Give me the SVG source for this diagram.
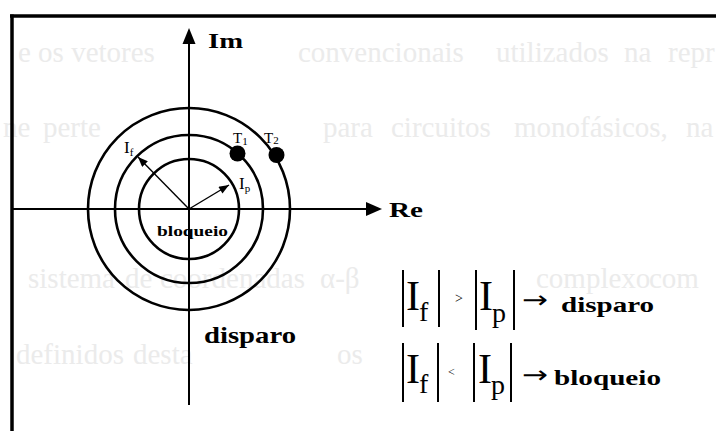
<svg xmlns="http://www.w3.org/2000/svg" width="716" height="431" viewBox="0 0 716 431">
  <defs>
    <style>
      .ghost { font-family: "Liberation Serif", serif; font-size: 29px; fill: #ebebeb; }
      .lbl { font-family: "Liberation Serif", serif; fill: #000; }
      .b { font-weight: bold; }
      .ln { stroke: #000; fill: none; }
      .bar { stroke: #000; stroke-width: 2; }
    </style>
    <marker id="ah" viewBox="0 0 10 8" refX="10" refY="4" markerWidth="11" markerHeight="8" markerUnits="userSpaceOnUse" orient="auto">
      <path d="M0,0 L10,4 L0,8 Z" fill="#000"/>
    </marker>
  </defs>
  <rect width="716" height="431" fill="#ffffff"/>

  <g id="ghost-text" class="ghost">
    <text y="62"><tspan x="18">e os vetores</tspan><tspan x="298">convencionais</tspan><tspan x="496">utilizados</tspan><tspan x="624">na</tspan><tspan x="668">repr</tspan></text>
    <text y="137"><tspan x="3">ne</tspan><tspan x="43">perte</tspan><tspan x="323">para</tspan><tspan x="391">circuitos</tspan><tspan x="514">monofásicos,</tspan><tspan x="686">na</tspan></text>
    <text y="288"><tspan x="28">sistema</tspan><tspan x="125">de</tspan><tspan x="160">coordenadas</tspan><tspan x="320">α-β</tspan><tspan x="536">complexo</tspan><tspan x="649">com</tspan></text>
    <text y="364"><tspan x="16">definidos</tspan><tspan x="133">desta</tspan><tspan x="337">os</tspan></text>
  </g>

  <g id="frame">
    <line class="ln" x1="10" y1="16" x2="716" y2="16" stroke-width="3.5"/>
    <line class="ln" x1="12" y1="14.5" x2="12" y2="431" stroke-width="3.5"/>
  </g>

  <g id="circles">
    <circle class="ln" cx="189" cy="209" r="101" stroke-width="2.6"/>
    <circle class="ln" cx="189" cy="209" r="74" stroke-width="2.6"/>
    <circle class="ln" cx="189" cy="209" r="50" stroke-width="2.6"/>
  </g>

  <g id="connectors">
    <line class="ln" x1="189" y1="405" x2="189" y2="42" stroke-width="2"/>
    <path d="M189,28 L182.5,44 L195.5,44 Z" fill="#000"/>
    <line class="ln" x1="12" y1="209" x2="368" y2="209" stroke-width="2"/>
    <path d="M382,209 L366,202 L366,216 Z" fill="#000"/>
    <line class="ln" x1="189" y1="209" x2="138" y2="157" stroke-width="1.4" marker-end="url(#ah)"/>
    <line class="ln" x1="189" y1="209" x2="229" y2="185" stroke-width="1.4" marker-end="url(#ah)"/>
  </g>

  <g id="axis-labels">
    <text class="lbl b" x="208" y="48" font-size="22" textLength="35" lengthAdjust="spacingAndGlyphs">Im</text>
    <text class="lbl b" x="389" y="217" font-size="20" textLength="34" lengthAdjust="spacingAndGlyphs">Re</text>
  </g>

  <g id="T1">
    <circle cx="237.5" cy="153.5" r="8" fill="#000"/>
    <text class="lbl" x="233" y="143" font-size="15">T<tspan font-size="11" dy="2">1</tspan></text>
  </g>
  <g id="T2">
    <circle cx="276.5" cy="155" r="8" fill="#000"/>
    <text class="lbl" x="264" y="143" font-size="15">T<tspan font-size="11" dy="1">2</tspan></text>
  </g>

  <g id="If-label">
    <text class="lbl" x="124" y="153" font-size="17">I<tspan font-size="11" dy="3">f</tspan></text>
  </g>
  <g id="Ip-label">
    <text class="lbl" x="239" y="189" font-size="17">I<tspan font-size="11" dy="3">p</tspan></text>
  </g>

  <g id="region-bloqueio">
    <text class="lbl b" x="157" y="236" font-size="15" textLength="71" lengthAdjust="spacingAndGlyphs">bloqueio</text>
  </g>
  <g id="region-disparo">
    <text class="lbl b" x="204" y="343" font-size="23" textLength="92" lengthAdjust="spacingAndGlyphs">disparo</text>
  </g>

  <g id="rule-disparo">
    <line class="bar" x1="403" y1="270" x2="403" y2="327"/>
    <line class="bar" x1="439" y1="270" x2="439" y2="327"/>
    <line class="bar" x1="476" y1="270" x2="476" y2="330"/>
    <line class="bar" x1="514" y1="270" x2="514" y2="330"/>
    <text class="lbl" x="406" y="310" font-size="42">I</text>
    <text class="lbl" x="419" y="321" font-size="28">f</text>
    <text class="lbl" x="455" y="303" font-size="14" fill="#b8b8b8">&gt;</text>
    <text class="lbl" x="479" y="310" font-size="42">I</text>
    <text class="lbl" x="492" y="322" font-size="28">p</text>
    <text x="522" y="308" font-family="DejaVu Sans, sans-serif" font-size="24" textLength="26" lengthAdjust="spacingAndGlyphs">→</text>
    <text class="lbl b" x="561" y="312" font-size="22" textLength="93" lengthAdjust="spacingAndGlyphs">disparo</text>
  </g>

  <g id="rule-bloqueio">
    <line class="bar" x1="403" y1="343" x2="403" y2="402"/>
    <line class="bar" x1="438" y1="343" x2="438" y2="402"/>
    <line class="bar" x1="474" y1="343" x2="474" y2="402"/>
    <line class="bar" x1="511" y1="343" x2="511" y2="402"/>
    <text class="lbl" x="406" y="383" font-size="42">I</text>
    <text class="lbl" x="419" y="393" font-size="28">f</text>
    <text class="lbl" x="448" y="376" font-size="12" fill="#b8b8b8">&lt;</text>
    <text class="lbl" x="478" y="383" font-size="42">I</text>
    <text class="lbl" x="491" y="394" font-size="28">p</text>
    <text x="522" y="383" font-family="DejaVu Sans, sans-serif" font-size="24" textLength="26" lengthAdjust="spacingAndGlyphs">→</text>
    <text class="lbl b" x="554" y="385" font-size="22" textLength="107" lengthAdjust="spacingAndGlyphs">bloqueio</text>
  </g>
</svg>
